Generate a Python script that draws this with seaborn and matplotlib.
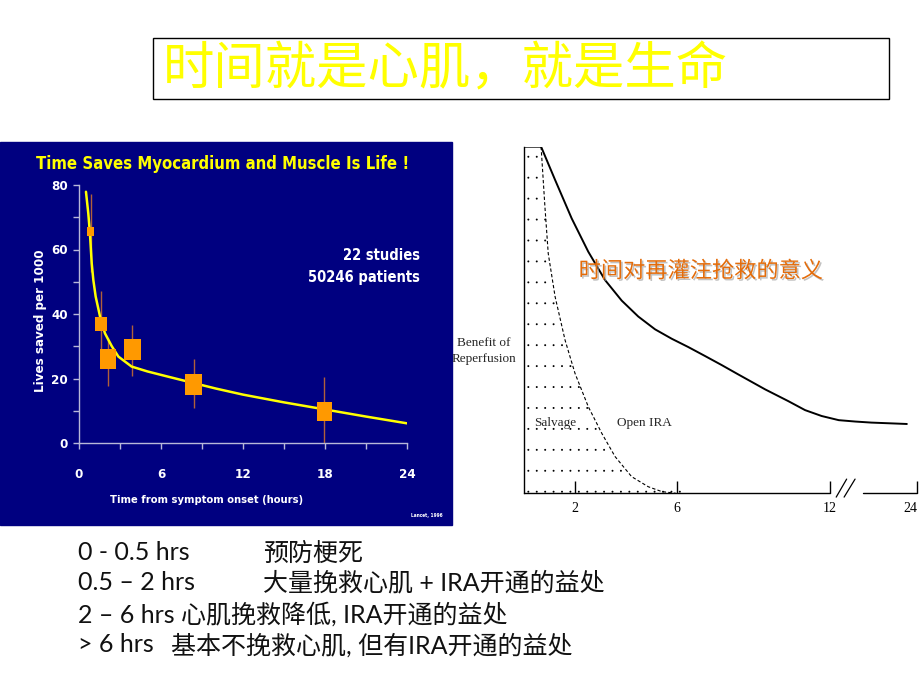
import matplotlib
matplotlib.use("Agg")
import matplotlib.pyplot as plt
import matplotlib.patches as mpatches
import matplotlib.patheffects as pe
import seaborn as sns
import numpy as np

# ---- left chart: lives saved vs time to treatment ----
onset_hours = [0.86, 1.61, 2.15, 3.9, 8.4, 17.95]
lives_saved = [65.5, 36.8, 26.0, 29.0, 18.0, 9.7]
ci_low = [53.0, 29.0, 17.8, 20.8, 10.8, 0.0]
ci_high = [77.2, 47.0, 32.5, 36.6, 26.0, 20.4]
study_weight = [6.5, 10.1, 14.4, 15.8, 15.1, 13.7]

fit_hours = [0.51, 0.68, 0.80, 0.93, 1.05, 1.22, 1.54, 1.90, 2.4, 2.88, 3.85, 5, 6.3,
             8, 10, 12, 15, 18, 21, 24]
fit_lives = [77.9, 71.2, 65.0, 55.7, 50.5, 45.4, 39.2, 34.0, 30.0, 26.8, 23.7, 22.2, 20.8,
             19.0, 16.9, 15.0, 12.6, 10.4, 8.2, 6.1]

# ---- right chart: benefit of reperfusion ----
ira_hours = [0, 0.67, 1.22, 1.87, 2.52, 3.18, 3.83, 4.48, 5.14, 5.79, 6.44, 7.10,
             7.75, 8.40, 9.06, 9.45, 10.36, 11.02, 11.67, 13.2, 15.5, 17.7, 22.6]
ira_benefit = [100, 100, 90.4, 79.3, 69.7, 61.5, 55.6, 51.0, 47.3, 44.6, 42.2, 39.6,
               37.0, 34.3, 31.6, 30.0, 26.6, 24.0, 22.3, 21.1, 20.7, 20.4, 20.0]
salvage_hours = [0.67, 0.82, 0.95, 1.22, 1.61, 2.0, 2.52, 3.05, 3.57, 4.22, 4.87, 5.40, 5.95]
salvage_benefit = [100, 82.7, 69.2, 56.7, 44.2, 34.6, 25.0, 17.3, 10.6, 4.8, 1.9, 0.5, 0]
right_ticks = [2, 6, 12, 24]

notes = [
    ("0 - 0.5 hrs", "预防梗死"),
    ("0.5 – 2 hrs", "大量挽救心肌 + IRA开通的益处"),
    ("2 – 6 hrs 心肌挽救降低, IRA开通的益处", ""),
    ("> 6 hrs", "基本不挽救心肌, 但有IRA开通的益处"),
]

sns.set_theme(style="white")
plt.rcParams["font.family"] = ["DejaVu Sans"]
plt.rcParams["font.stretch"] = "condensed"

W, H = 920, 690


def px(x, y):
    return x / W, 1 - y / H


def squash(h):
    # x axis is broken after 12 h
    h = np.asarray(h, dtype=float)
    return np.where(h <= 12, h, 12 + (h - 12) * 0.284)


fig = plt.figure(figsize=(W / 100, H / 100), dpi=100)
fig.patch.set_facecolor("white")

# navy panel behind left chart
fig.patches.append(mpatches.Rectangle(px(0, 525), 452 / W, (525 - 142) / H,
                                      transform=fig.transFigure, color="#000080", zorder=-10))

# title box
fig.patches.append(mpatches.Rectangle(px(153, 99), 736 / W, 61 / H, transform=fig.transFigure,
                                      fill=False, ec="black", lw=1.0))
fig.text(*px(163, 70), "时间就是心肌，就是生命", color="#ffff00", fontsize=37,
         family=["Noto Sans CJK SC", "DejaVu Sans"], fontstretch="normal",
         va="center", ha="left")

# ---------- left axes ----------
ax1 = fig.add_axes([79 / W, 1 - 443 / H, 328 / W, 258 / H])
ax1.set_facecolor("none")
ax1.vlines(onset_hours, ci_low, ci_high, color="#b0603a", lw=1.0, zorder=1)
sns.lineplot(x=fit_hours, y=fit_lives, ax=ax1, color="#ffff00", lw=1.8,
             estimator=None, sort=False, zorder=2)
box = [(-0.8, -1), (0.8, -1), (0.8, 1), (-0.8, 1), (-0.8, -1)]
ax1.scatter(onset_hours, lives_saved, s=np.array(study_weight) ** 2, marker=box,
            color="#ff9900", edgecolors="none", zorder=3)
ax1.set_xlim(0, 24)
ax1.set_ylim(0, 80)
ax1.set_xticks([0, 6, 12, 18, 24])
ax1.set_xticks([3, 9, 15, 21], minor=True)
ax1.set_yticks([0, 20, 40, 60, 80])
ax1.set_yticks([10, 30, 50, 70], minor=True)
for s in ["top", "right"]:
    ax1.spines[s].set_visible(False)
for s in ["left", "bottom"]:
    ax1.spines[s].set_color("#b8b8d8")
    ax1.spines[s].set_linewidth(1.0)
ax1.tick_params(which="both", direction="out", length=4, width=1, color="#b8b8d8",
                labelcolor="white", labelsize=9.5, bottom=True, left=True)
ax1.tick_params(axis="x", pad=14)
ax1.tick_params(axis="y", pad=4)
for lab in ax1.get_xticklabels() + ax1.get_yticklabels():
    lab.set_fontweight("bold")

fig.text(*px(223, 164), "Time Saves Myocardium and Muscle Is Life !", color="#ffff00",
         fontsize=12, fontweight="bold", ha="center", va="center")
fig.text(*px(41, 321), "Lives saved per 1000", color="white", fontsize=9.5,
         fontweight="bold", rotation=90, ha="center", va="center")
fig.text(*px(207, 500), "Time from symptom onset (hours)", color="white", fontsize=8,
         fontweight="bold", ha="center", va="center")
fig.text(*px(420, 266.5), "22 studies\n50246 patients", color="white", fontsize=10.5,
         fontweight="bold", ha="right", va="center", linespacing=1.55)
fig.text(*px(443, 516), "Lancet, 1996", color="white", fontsize=3.5, fontweight="bold",
         ha="right", va="center")

# ---------- right axes ----------
ax2 = fig.add_axes([524 / W, 1 - 493.3 / H, (917 - 524) / W, (493.3 - 146.7) / H])
ax2.set_facecolor("none")
ax2.set_xlim(0, float(squash(24)))
ax2.set_ylim(0, 100)

# dotted salvage region under the dashed curve
gx, gy = np.meshgrid(np.arange(0.17, 6.2, 0.33), np.arange(97.1, 0, -6.04))
gx, gy = gx.ravel(), gy.ravel()
limit = np.interp(gx, salvage_hours, salvage_benefit, left=100, right=0)
keep = gy <= limit + 0.6
ax2.scatter(gx[keep], gy[keep], s=2.0, color="black", edgecolors="none", zorder=1)

sns.lineplot(x=squash(ira_hours), y=ira_benefit, ax=ax2, color="black", lw=1.4,
             estimator=None, sort=False, zorder=3)
sns.lineplot(x=squash(salvage_hours), y=salvage_benefit, ax=ax2, color="black", lw=0.8,
             estimator=None, sort=False, linestyle=(0, (3, 2)), zorder=3)

for s in ["top", "right", "bottom"]:
    ax2.spines[s].set_visible(False)
ax2.spines["left"].set_color("black")
ax2.spines["left"].set_linewidth(1.0)
ax2.plot([0, 12.0], [0, 0], color="black", lw=1.0, clip_on=False)
ax2.plot([13.29, float(squash(24))], [0, 0], color="black", lw=1.0, clip_on=False)
ax2.plot([12.24, 12.65], [-1.1, 4.1], color="black", lw=0.9, clip_on=False)
ax2.plot([12.55, 12.98], [-1.1, 4.1], color="black", lw=0.9, clip_on=False)
ax2.set_xticks(squash(right_ticks))
ax2.set_xticklabels([str(t) for t in right_ticks], family="Liberation Serif",
                    fontstretch="normal")
ax2.get_xticklabels()[-1].set_horizontalalignment("right")
ax2.set_yticks([])
ax2.tick_params(axis="x", direction="in", length=9, width=1, color="black",
                labelsize=10, labelcolor="black", pad=6, bottom=True)

serif = ["Liberation Serif", "DejaVu Serif"]
fig.text(*px(484, 351), "Benefit of\nReperfusion", family=serif, fontstretch="normal",
         fontsize=9.5, ha="center", va="center", linespacing=1.5)
fig.text(*px(555, 423), "Salvage", family=serif, fontstretch="normal", fontsize=9.5,
         ha="center", va="center")
fig.text(*px(644, 423), "Open IRA", family=serif, fontstretch="normal", fontsize=9.5,
         ha="center", va="center")
fig.text(*px(701, 271), "时间对再灌注抢救的意义", color="#e46c0a", fontsize=16,
         family=["Noto Sans CJK SC", "DejaVu Sans"], fontstretch="normal",
         ha="center", va="center",
         path_effects=[pe.withSimplePatchShadow(offset=(1.2, -1.2), shadow_rgbFace="#9a9a9a",
                                                 alpha=0.6)])

# ---------- notes under the charts ----------
note_font = ["Lato", "Noto Sans CJK SC", "DejaVu Sans"]
row_y = [553, 583, 614, 645]
second_x = [263, 263, 263, 171]
for (left, right), y, x2 in zip(notes, row_y, second_x):
    fig.text(*px(78, y), left, family=note_font, fontstretch="normal", fontsize=18,
             color="#111111", ha="left", va="center")
    if right:
        fig.text(*px(x2, y), right, family=note_font, fontstretch="normal", fontsize=18,
                 color="#111111", ha="left", va="center")

fig.savefig("out.png", dpi=100)
